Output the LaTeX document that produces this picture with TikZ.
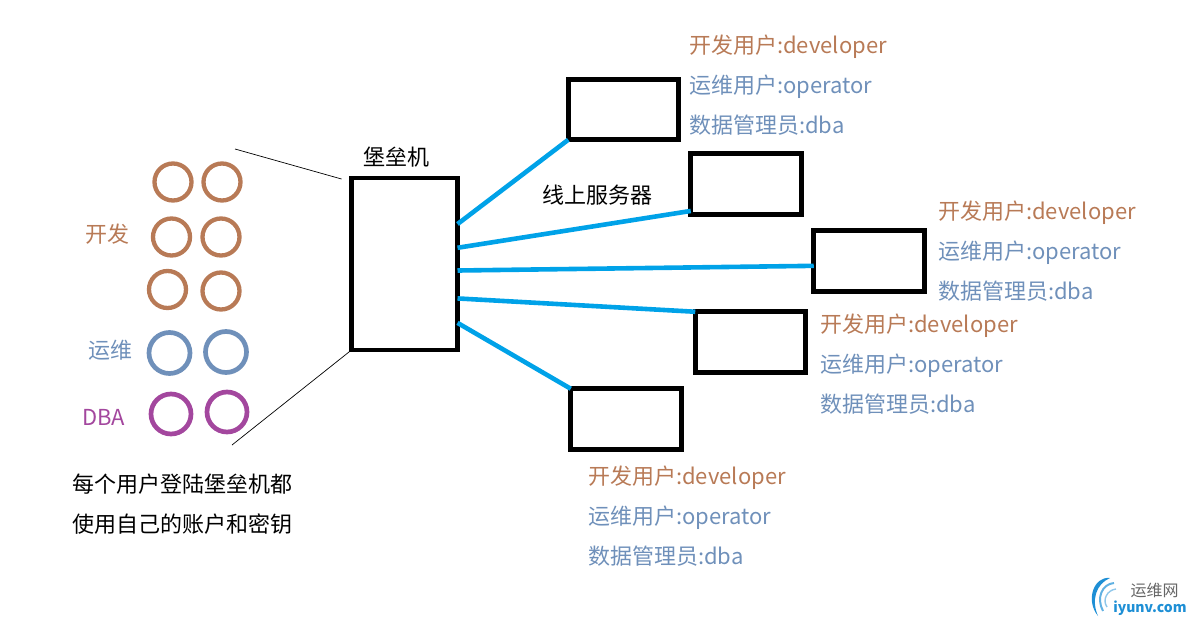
\documentclass[tikz,border=0pt]{standalone}
\usepackage{fontspec}
\setmainfont{Noto Sans CJK SC}
\definecolor{devbrown}{HTML}{B87A56}
\definecolor{opblue}{HTML}{6F90BA}
\definecolor{dbapurple}{HTML}{A3479E}
\definecolor{linkblue}{HTML}{00A2E8}
\definecolor{logoblue}{HTML}{1E8FD5}
\tikzset{
  box/.style={draw=black, line width=4.8pt, inner sep=0pt, outer sep=0pt},
  server/.style={box, minimum width=110.5pt, minimum height=60.5pt},
  link/.style={draw=linkblue, line width=4.6pt},
  wire/.style={draw=black, line width=0.7pt},
  devring/.style={circle, draw=devbrown, line width=4.3pt, minimum size=37pt, inner sep=0pt},
  opring/.style={circle, draw=opblue, line width=4.7pt, minimum size=41pt, inner sep=0pt},
  dbaring/.style={circle, draw=dbapurple, line width=4.7pt, minimum size=40pt, inner sep=0pt},
  label/.style={anchor=west, inner sep=0pt, font=\fontsize{22}{22}\selectfont},
  devtext/.style={label, text=devbrown},
  optext/.style={label, text=opblue},
  blacktext/.style={label, text=black},
}
\begin{document}
\begin{tikzpicture}[x=1pt, y=-1pt]
\useasboundingbox (0, 0) rectangle (1194, 624);

% Users on the left
\node[devring] (dev1) at (173, 182) {};
\node[devring] (dev2) at (222, 182) {};
\node[devring] (dev3) at (171.5, 237) {};
\node[devring] (dev4) at (221, 237) {};
\node[devring] (dev5) at (167.5, 289.5) {};
\node[devring] (dev6) at (221, 291) {};
\node[opring] (op1) at (169.5, 353) {};
\node[opring] (op2) at (226, 352) {};
\node[dbaring] (dba1) at (171, 414) {};
\node[dbaring] (dba2) at (227, 412) {};
\node[devtext] (devname) at (85, 234) {开发};
\node[optext] (opname) at (88, 350) {运维};
\node[label, text=dbapurple] (dbaname) at (82, 417.5) {DBA};
\node[blacktext] (note1) at (72, 484.5) {每个用户登陆堡垒机都};
\node[blacktext] (note2) at (72, 524.5) {使用自己的账户和密钥};

% Bastion and servers
\node[box, minimum width=106pt, minimum height=172pt] (bastion) at (404.5, 264) {};
\node[blacktext] (bastionname) at (363, 157.5) {堡垒机};
\node[blacktext] (servername) at (542, 195.5) {线上服务器};
\node[server] (server1) at (623.5, 109.5) {};
\node[server] (server2) at (746, 184) {};
\node[server] (server3) at (869, 261) {};
\node[server] (server4) at (750.5, 342) {};
\node[server] (server5) at (626, 419) {};

% Fan lines towards the bastion
\coordinate (fantop) at (235, 149);
\coordinate (fanbottom) at (232, 445);
\draw[wire] (fantop) -- ([xshift=-10pt, yshift=-1pt]bastion.north west);
\draw[wire] (fanbottom) -- (bastion.south west);

% Links
\draw[link] (bastion.37) -- (server1.south west);
\draw[link] (bastion.17) -- (server2.206);
\draw[link] (bastion.-7) -- (server3.185);
\draw[link] (bastion.-33) -- (server4.north west);
\draw[link] (bastion.-48) -- (server5.north west);

% Accounts on the servers
\node[devtext] (acc1a) at (689, 46.5) {开发用户:developer};
\node[optext] (acc1b) at (689, 86.5) {运维用户:operator};
\node[optext] (acc1c) at (689, 125.5) {数据管理员:dba};
\node[devtext] (acc3a) at (938, 212.5) {开发用户:developer};
\node[optext] (acc3b) at (938, 252.5) {运维用户:operator};
\node[optext] (acc3c) at (938, 291.5) {数据管理员:dba};
\node[devtext] (acc4a) at (820, 325.5) {开发用户:developer};
\node[optext] (acc4b) at (820, 365.5) {运维用户:operator};
\node[optext] (acc4c) at (820, 404.5) {数据管理员:dba};
\node[devtext] (acc5a) at (588, 477.5) {开发用户:developer};
\node[optext] (acc5b) at (588, 517.5) {运维用户:operator};
\node[optext] (acc5c) at (588, 556.5) {数据管理员:dba};

% Logo
\fill[logoblue] (1110, 578) .. controls (1094, 576) and (1085, 600) .. (1098, 616) .. controls (1091, 600) and (1096, 584) .. (1110, 578) -- cycle;
\draw[logoblue!70, line width=2pt] (1114, 583) .. controls (1102, 584) and (1096, 598) .. (1103, 611);
\draw[logoblue!50, line width=1.4pt] (1116, 589) .. controls (1107, 590) and (1102, 600) .. (1107, 607);
\node[anchor=center, inner sep=0pt, text=black!60, font=\fontsize{16}{16}\selectfont] (logotext) at (1154.5, 590) {运维网};
\node[anchor=center, inner sep=0pt, text=logoblue, font=\fontsize{14}{14}\selectfont\bfseries] (logourl) at (1150, 608) {iyunv.com};
\end{tikzpicture}
\end{document}
